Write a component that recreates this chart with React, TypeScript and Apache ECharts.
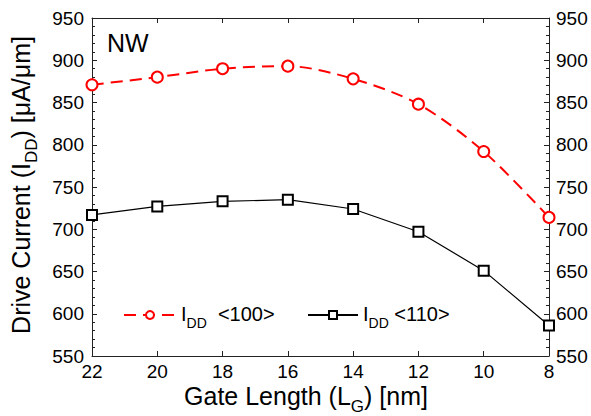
import React, { useEffect, useRef } from "react";
import * as echarts from "echarts";

const gateLengths = [22, 20, 18, 16, 14, 12, 10, 8];
const idd100 = [871, 880, 890, 893, 878, 848, 792, 714];
const idd110 = [717, 727, 733, 735, 724, 697, 651, 586];
const seriesNames = ["IDD <100>", "IDD <110>"];

const FONT = "Liberation Sans, Arial, sans-serif";

export default function App() {
  const ref = useRef<HTMLDivElement>(null);
  useEffect(() => {
    if (!ref.current) return;
    const chart = echarts.init(ref.current, null, { renderer: "svg" });
    const richBase = (size: number, sub: number, k = 0.62) => ({
      m: { fontSize: size, fontFamily: FONT, color: "#000", lineHeight: size + 2, verticalAlign: "top" },
      s: { fontSize: sub, fontFamily: FONT, color: "#000", lineHeight: sub, padding: [Math.round(size * k), 0, 0, 0], verticalAlign: "top" },
    });
    const axisCommon = {
      axisLine: { show: true, lineStyle: { color: "#222", width: 1 } },
      axisTick: { show: true, inside: true, length: 5, lineStyle: { color: "#222" } },
      splitLine: { show: false },
    };
    chart.setOption({
      animation: false,
      backgroundColor: "#fff",
      grid: { left: 92, right: 42, top: 18, bottom: 60, containLabel: false },
      xAxis: [
        {
          type: "value", min: 8, max: 22, interval: 2, inverse: true, position: "bottom",
          ...axisCommon,
          axisLabel: { fontSize: 19, fontFamily: FONT, color: "#000", margin: 6 },
        },
        {
          type: "value", min: 8, max: 22, interval: 2, inverse: true, position: "top",
          ...axisCommon,
          axisLabel: { show: false },
        },
      ],
      yAxis: [
        {
          type: "value", min: 550, max: 950, interval: 50, position: "left",
          ...axisCommon,
          minorTick: { show: true, splitNumber: 5, length: 3, lineStyle: { color: "#222" } },
          axisLabel: { fontSize: 19, fontFamily: FONT, color: "#000", margin: 8 },
        },
        {
          type: "value", min: 550, max: 950, interval: 50, position: "right",
          ...axisCommon,
          minorTick: { show: true, splitNumber: 5, length: 3, lineStyle: { color: "#222" } },
          axisLabel: { fontSize: 19, fontFamily: FONT, color: "#000", margin: 7 },
        },
      ],
      legend: [
        {
          data: [seriesNames[0]], left: 118, top: 299, itemWidth: 52, itemHeight: 10,
          formatter: () => "{m|I}{s|DD}{m|  <100>}",
          textStyle: { rich: richBase(20, 14) },
        },
        {
          data: [seriesNames[1]], left: 302, top: 299, itemWidth: 50, itemHeight: 10,
          formatter: () => "{m|I}{s|DD}{m| <110>}",
          textStyle: { rich: richBase(20, 14) },
        },
      ],
      graphic: [
        {
          type: "text", left: 107, top: 30,
          style: { text: "NW", fontSize: 25, fontFamily: FONT, fill: "#000" },
        },
        {
          type: "text", x: 306, y: 397,
          style: {
            text: "{m|Gate Length (L}{s|G}{m|) [nm]}",
            rich: richBase(25, 17, 0.56),
            align: "center", verticalAlign: "middle",
          },
        },
        {
          type: "text", x: 22, y: 185, rotation: Math.PI / 2,
          style: {
            text: "{m|Drive Current (I}{s|DD}{m|) [μA/μm]}",
            rich: richBase(25, 17, 0.56),
            align: "center", verticalAlign: "middle",
          },
        },
      ],
      series: [
        {
          name: seriesNames[0], type: "line", smooth: 0.3,
          data: gateLengths.map((x, i) => [x, idd100[i]]),
          symbol: "emptyCircle", symbolSize: 11,
          lineStyle: { color: "#ff0000", width: 2, type: [12, 7] },
          itemStyle: { color: "#ff0000", borderWidth: 1.5 },
        },
        {
          name: seriesNames[1], type: "line",
          data: gateLengths.map((x, i) => [x, idd110[i]]),
          symbol: "emptyRect", symbolSize: 10,
          lineStyle: { color: "#000", width: 1.2 },
          itemStyle: { color: "#000", borderWidth: 1.5 },
        },
      ],
    });
    return () => chart.dispose();
  }, []);
  return <div ref={ref} style={{ width: 591, height: 416, position: "absolute", left: 0, top: 0 }} />;
}
